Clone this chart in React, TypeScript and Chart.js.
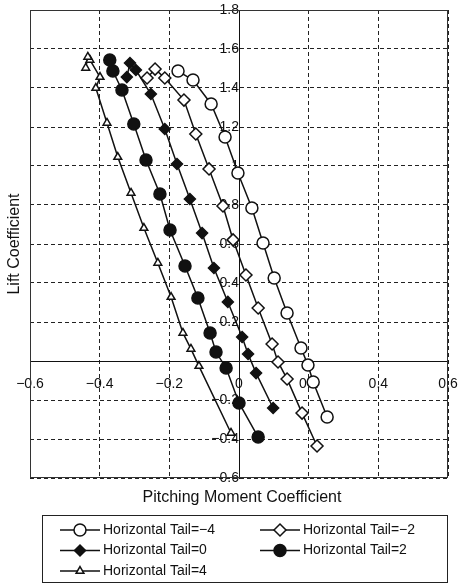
import React, { useEffect, useRef } from 'react';
import { Chart, registerables, PointElement } from 'chart.js';

Chart.register(...registerables);

// ---- data ----
const seriesLabels = [
  'Horizontal Tail=\u22124',
  'Horizontal Tail=\u22122',
  'Horizontal Tail=0',
  'Horizontal Tail=2',
  'Horizontal Tail=4',
];

const tailM4Cm = [0.253, 0.213, 0.198, 0.178, 0.138, 0.101, 0.069, 0.037, -0.003, -0.040, -0.080, -0.132, -0.175];
const tailM4Cl = [-0.287, -0.108, -0.021, 0.067, 0.246, 0.426, 0.605, 0.785, 0.964, 1.149, 1.318, 1.441, 1.487];

const tailM2Cm = [0.224, 0.181, 0.138, 0.112, 0.095, 0.055, 0.020, -0.017, -0.046, -0.086, -0.124, -0.158, -0.213, -0.241, -0.264];
const tailM2Cl = [-0.436, -0.267, -0.092, -0.005, 0.087, 0.272, 0.441, 0.621, 0.795, 0.985, 1.164, 1.338, 1.451, 1.497, 1.451];

const tail0Cm = [0.098, 0.049, 0.026, 0.009, -0.032, -0.072, -0.106, -0.141, -0.178, -0.213, -0.253, -0.296, -0.313, -0.322];
const tail0Cl = [-0.241, -0.062, 0.036, 0.123, 0.303, 0.477, 0.656, 0.831, 1.010, 1.190, 1.369, 1.492, 1.528, 1.456];

const tail2Cm = [0.055, 0.000, -0.037, -0.066, -0.083, -0.118, -0.155, -0.198, -0.227, -0.267, -0.302, -0.336, -0.362, -0.371];
const tail2Cl = [-0.390, -0.215, -0.036, 0.046, 0.144, 0.323, 0.487, 0.672, 0.856, 1.031, 1.215, 1.390, 1.487, 1.544];

const tail4Cm = [-0.023, -0.115, -0.138, -0.161, -0.195, -0.233, -0.273, -0.310, -0.348, -0.379, -0.411, -0.399, -0.428, -0.434, -0.440];
const tail4Cl = [-0.369, -0.026, 0.062, 0.144, 0.328, 0.503, 0.682, 0.862, 1.046, 1.221, 1.400, 1.456, 1.544, 1.559, 1.503];

const xTickValues = [-0.6, -0.4, -0.2, 0, 0.2, 0.4, 0.6];
const yTickValues = [-0.6, -0.4, -0.2, 0, 0.2, 0.4, 0.6, 0.8, 1.0, 1.2, 1.4, 1.6, 1.8];

const xTitle = 'Pitching Moment Coefficient';
const yTitle = 'Lift Coefficient';

const FONT = '"Liberation Sans", Arial, Helvetica, sans-serif';
const INK = '#111';

const fmt = (v: number) => {
  const s = (Math.round(v * 10) / 10).toString();
  return s.replace('-', '\u2212');
};

const toPts = (xs: number[], ys: number[]) => xs.map((x, i) => ({ x, y: ys[i] }));

const zeroFit = (s: any) => {
  s.paddingLeft = 0;
  s.paddingRight = 0;
  s.paddingTop = 0;
  s.paddingBottom = 0;
  if (s.isHorizontal()) s.height = 0;
  else s.width = 0;
};

const framePlugin = {
  id: 'frame',
  beforeDatasetsDraw(chart: any) {
    const { ctx, chartArea: a } = chart;
    ctx.save();
    ctx.strokeStyle = '#333';
    ctx.lineWidth = 1;
    ctx.setLineDash([]);
    ctx.strokeRect(Math.round(a.left) + 0.5, Math.round(a.top) + 0.5, Math.round(a.right - a.left) - 1, Math.round(a.bottom - a.top) - 1);
    ctx.restore();
  },
};

const titlesLegendPlugin = {
  id: 'titlesLegend',
  afterDraw(chart: any) {
    const { ctx, chartArea: a } = chart;
    ctx.save();
    // axis titles
    ctx.fillStyle = INK;
    ctx.font = `16px ${FONT}`;
    ctx.textAlign = 'center';
    ctx.textBaseline = 'middle';
    ctx.fillText(xTitle, (a.left + a.right) / 2 + 3, a.bottom + 20);
    ctx.save();
    ctx.translate(15, (a.top + a.bottom) / 2);
    ctx.rotate(-Math.PI / 2);
    ctx.fillText(yTitle, 0, 0);
    ctx.restore();

    // legend box
    const bx = 42, by = 515, bw = 405, bh = 67;
    ctx.strokeStyle = '#222';
    ctx.lineWidth = 1;
    ctx.strokeRect(bx + 0.5, by + 0.5, bw, bh);
    const area = { left: 0, top: 0, right: chart.width, bottom: chart.height };
    chart.data.datasets.forEach((ds: any, i: number) => {
      const col = i % 2;
      const row = Math.floor(i / 2);
      const x0 = 60 + col * 200;
      const y = 530 + row * 20.5;
      ctx.strokeStyle = ds.borderColor;
      ctx.lineWidth = ds.borderWidth;
      ctx.beginPath();
      ctx.moveTo(x0, y);
      ctx.lineTo(x0 + 40, y);
      ctx.stroke();
      const el: any = new PointElement({} as any);
      el.x = x0 + 20;
      el.y = y;
      el.options = {
        pointStyle: ds.pointStyle,
        radius: ds.pointRadius,
        rotation: 0,
        borderWidth: ds.pointBorderWidth,
        borderColor: ds.pointBorderColor,
        backgroundColor: ds.pointBackgroundColor,
      };
      el.draw(ctx, area);
      ctx.fillStyle = INK;
      ctx.font = `14px ${FONT}`;
      ctx.textAlign = 'left';
      ctx.textBaseline = 'middle';
      ctx.fillText(ds.label, x0 + 43, y);
    });
    ctx.restore();
  },
};

export default function App() {
  const ref = useRef<HTMLCanvasElement | null>(null);

  useEffect(() => {
    if (!ref.current) return;
    const mk = (label: string, xs: number[], ys: number[], style: string, r: number, fill: string) => ({
      label,
      data: toPts(xs, ys),
      showLine: true,
      borderColor: INK,
      borderWidth: 1.5,
      pointStyle: style,
      pointRadius: r,
      pointBorderWidth: 1.5,
      pointBorderColor: INK,
      pointBackgroundColor: fill,
      fill: false,
      tension: 0,
    });

    const chart = new Chart(ref.current, {
      type: 'scatter',
      data: {
        datasets: [
          mk(seriesLabels[0], tailM4Cm, tailM4Cl, 'circle', 6, '#fff'),
          mk(seriesLabels[1], tailM2Cm, tailM2Cl, 'rectRot', 6, '#fff'),
          mk(seriesLabels[2], tail0Cm, tail0Cl, 'rectRot', 5.5, INK),
          mk(seriesLabels[3], tail2Cm, tail2Cl, 'circle', 6, INK),
          mk(seriesLabels[4], tail4Cm, tail4Cl, 'triangle', 4.5, '#fff'),
        ] as any,
      },
      options: {
        animation: false,
        responsive: false,
        devicePixelRatio: 1,
        layout: { padding: { left: 30, top: 10, right: 12, bottom: 106 } },
        plugins: {
          legend: { display: false },
          tooltip: { enabled: false },
        },
        scales: {
          x: {
            type: 'linear',
            position: { y: 0 } as any,
            min: -0.6,
            max: 0.6,
            afterBuildTicks: (s: any) => {
              s.ticks = xTickValues.map((v) => ({ value: v }));
            },
            afterFit: zeroFit,
            ticks: {
              callback: (v: any) => fmt(Number(v)),
              color: INK,
              font: { family: FONT, size: 14 },
              padding: 15,
              maxRotation: 0,
              autoSkip: false,
            },
            grid: { color: '#222', lineWidth: 1, drawTicks: false },
            border: { display: true, color: '#111', width: 1, dash: [4, 3] },
          },
          y: {
            type: 'linear',
            position: { x: 0 } as any,
            min: -0.6,
            max: 1.8,
            afterBuildTicks: (s: any) => {
              s.ticks = yTickValues.map((v) => ({ value: v }));
            },
            afterFit: zeroFit,
            ticks: {
              callback: (v: any) => (Math.abs(Number(v)) < 1e-9 ? '' : fmt(Number(v))),
              color: INK,
              font: { family: FONT, size: 14 },
              padding: 10,
              autoSkip: false,
            },
            grid: { color: '#222', lineWidth: 1, drawTicks: false },
            border: { display: true, color: '#111', width: 1, dash: [4, 3] },
          },
        },
      } as any,
      plugins: [framePlugin, titlesLegendPlugin],
    });
    return () => chart.destroy();
  }, []);

  return (
    <div style={{ position: 'fixed', left: 0, top: 0, width: 460, height: 584, background: '#fff' }}>
      <canvas ref={ref} width={460} height={584} style={{ display: 'block' }} />
    </div>
  );
}
